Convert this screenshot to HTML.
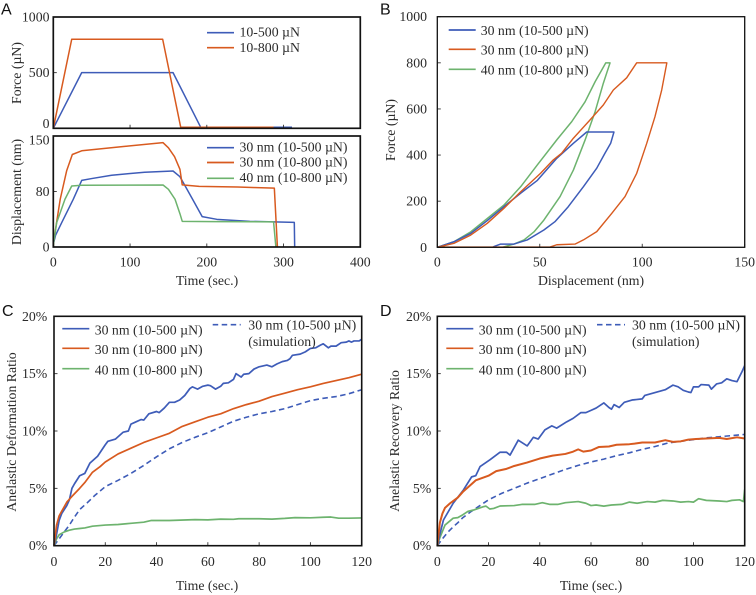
<!DOCTYPE html>
<html lang="en">
<head>
<meta charset="utf-8">
<title>Nanoindentation force, displacement and anelastic ratio charts</title>
<style>
html,body{margin:0;padding:0;background:#fff;width:756px;height:595px;overflow:hidden}
svg{display:block;font-family:"Liberation Serif",serif;fill:#2b2b2b;filter:blur(.3px)}
text{font-size:13.8px}
.letter{font-family:"Liberation Sans",sans-serif;font-size:16px;fill:#111}
.frame{fill:none;stroke:#111}
</style>
</head>
<body>
<svg id="chart" xmlns="http://www.w3.org/2000/svg" width="756" height="595" viewBox="0 0 756 595">
  <text class="letter" x="1" y="14.5">A</text>
  <text class="letter" x="380" y="14.5">B</text>
  <text class="letter" x="2" y="316">C</text>
  <text class="letter" x="380" y="316">D</text>

  <g id="p-force"></g>
  <g id="p-disp"></g>
  <g id="p-b"></g>
  <g id="p-c"></g>
  <g id="p-d"></g>

  <text x="207" y="285" text-anchor="middle">Time (sec.)</text>
  <text transform="translate(21,73) rotate(-90)" text-anchor="middle">Force (µN)</text>
  <text transform="translate(21,192) rotate(-90)" text-anchor="middle">Displacement (nm)</text>
  <text x="591" y="285" text-anchor="middle">Displacement (nm)</text>
  <text transform="translate(395,130) rotate(-90)" text-anchor="middle">Force (µN)</text>
  <text x="207" y="590" text-anchor="middle">Time (sec.)</text>
  <text transform="translate(16,432) rotate(-90)" text-anchor="middle">Anelastic Deformation Ratio</text>
  <text x="591" y="590" text-anchor="middle">Time (sec.)</text>
  <text transform="translate(399,441) rotate(-90)" text-anchor="middle">Anelastic Recovery Ratio</text>

  <g>
    <line x1="207" x2="234" y1="32.7" y2="32.7" stroke="#3E5CB8" stroke-width="1.7"/>
    <text x="239.5" y="36.5">10-500 µN</text>
    <line x1="207" x2="234" y1="47.7" y2="47.7" stroke="#D85A1F" stroke-width="1.7"/>
    <text x="239.5" y="52">10-800 µN</text>
  </g>
  <g>
    <line x1="207" x2="234" y1="147.7" y2="147.7" stroke="#3E5CB8" stroke-width="1.7"/>
    <text x="239.5" y="151.5">30 nm (10-500 µN)</text>
    <line x1="207" x2="234" y1="162.5" y2="162.5" stroke="#D85A1F" stroke-width="1.7"/>
    <text x="239.5" y="166.5">30 nm (10-800 µN)</text>
    <line x1="207" x2="234" y1="178.3" y2="178.3" stroke="#6DB36E" stroke-width="1.7"/>
    <text x="239.5" y="182">40 nm (10-800 µN)</text>
  </g>
  <g>
    <line x1="448.7" x2="475.7" y1="30" y2="30" stroke="#3E5CB8" stroke-width="1.7"/>
    <text x="480.7" y="35">30 nm (10-500 µN)</text>
    <line x1="448.7" x2="475.7" y1="49.3" y2="49.3" stroke="#D85A1F" stroke-width="1.7"/>
    <text x="480.7" y="54.5">30 nm (10-800 µN)</text>
    <line x1="448.7" x2="475.7" y1="69.3" y2="69.3" stroke="#6DB36E" stroke-width="1.7"/>
    <text x="480.7" y="74.5">40 nm (10-800 µN)</text>
  </g>
  <g>
    <line x1="62.3" x2="89.3" y1="328.7" y2="328.7" stroke="#3E5CB8" stroke-width="1.7"/>
    <text x="94.7" y="334.5">30 nm (10-500 µN)</text>
    <line x1="62.3" x2="89.3" y1="348.3" y2="348.3" stroke="#D85A1F" stroke-width="1.7"/>
    <text x="94.7" y="354">30 nm (10-800 µN)</text>
    <line x1="62.3" x2="89.3" y1="368.7" y2="368.7" stroke="#6DB36E" stroke-width="1.7"/>
    <text x="94.7" y="374.5">40 nm (10-800 µN)</text>
    <line x1="212.7" x2="240.7" y1="324.7" y2="324.7" stroke="#3E5CB8" stroke-width="1.6" stroke-dasharray="5.5 3.5"/>
    <text x="248.3" y="329.7">30 nm (10-500 µN)</text>
    <text x="248.3" y="346">(simulation)</text>
  </g>
  <g>
    <line x1="446.3" x2="473.3" y1="328.7" y2="328.7" stroke="#3E5CB8" stroke-width="1.7"/>
    <text x="478.7" y="334.5">30 nm (10-500 µN)</text>
    <line x1="446.3" x2="473.3" y1="348.3" y2="348.3" stroke="#D85A1F" stroke-width="1.7"/>
    <text x="478.7" y="354">30 nm (10-800 µN)</text>
    <line x1="446.3" x2="473.3" y1="368.7" y2="368.7" stroke="#6DB36E" stroke-width="1.7"/>
    <text x="478.7" y="374.5">40 nm (10-800 µN)</text>
    <line x1="597" x2="625" y1="324.7" y2="324.7" stroke="#3E5CB8" stroke-width="1.6" stroke-dasharray="5.5 3.5"/>
    <text x="632" y="329.7">30 nm (10-500 µN)</text>
    <text x="632" y="346">(simulation)</text>
  </g>
</svg>
<script>
// ---------- Panel A, force vs time ----------
const forceTime500 = [0, 37, 156, 192, 311];
const forceValue500 = [0, 500, 500, 10, 10];
const forceTime800 = [0, 24, 142.5, 166, 287];
const forceValue800 = [0, 800, 800, 10, 10];
const forceTicks = [0, 500, 1000];
const forceTickLabels = ['0', '500', '1000'];

// ---------- Panel A, displacement vs time ----------
const dispTime30a = [0, 0.5, 3, 11, 26, 37, 50, 76, 119, 156, 165, 171, 182, 194, 213, 256, 314, 314.5];
const dispValue30a = [0, 6, 16, 33, 64.5, 90, 92.5, 97, 101, 102.7, 95, 84, 63.5, 41, 37.4, 34.7, 33.3, 0];
const dispTime30b = [0, 0.5, 9, 17.4, 24.8, 37, 93, 143, 150, 158, 165, 168, 190, 240, 288, 292];
const dispValue30b = [0, 8, 64.5, 103, 125, 130, 136, 141, 134, 122, 105, 84, 82, 81, 79.5, 0];
const dispTime40 = [0, 0.5, 4.4, 15.2, 24, 37, 143, 150, 158.6, 165, 168, 210, 287, 290];
const dispValue40 = [0, 6, 33, 64.5, 82.4, 83.4, 83.8, 78, 64.5, 45, 34.7, 34.3, 34, 0];
const dispTicks = [0, 75, 150];
const dispTickLabels = ['0', '80', '150'];
const timeATicks = [0, 100, 200, 300, 400];
const timeATickLabels = ['0', '100', '200', '300', '400'];

// ---------- Panel B, force vs displacement ----------
const bDisp30a = [0, 8.1, 16.3, 24.4, 32.5, 40.7, 48.8, 58.3, 66.4, 72.9, 86.2, 84.6, 81.8, 77.8, 71.3, 63.9, 57.4, 52, 43.9, 37.4, 30.9, 27.6, 27];
const bForce30a = [0, 24, 60, 116, 176, 235, 290, 386, 451, 500, 500, 451, 408, 343, 263, 176, 111, 75, 32, 14, 14, 3, 0];
const bDisp30b = [0, 8.1, 16.3, 24.4, 32.5, 40.7, 50.4, 56.6, 60.7, 66.4, 74.5, 81, 85.9, 92.4, 97.3, 112, 109.5, 106.2, 102.2, 97.3, 91.6, 85.1, 77.8, 71.3, 67.2, 58.3, 55, 0];
const bForce30b = [0, 17, 53, 104, 169, 241, 321, 379, 408, 473, 552, 617, 682, 735, 800, 800, 682, 566, 451, 321, 220, 147, 68, 32, 14, 11, 1, 1];
const bDisp40 = [0, 8.1, 16.3, 24.4, 32.5, 40.7, 48.8, 58.5, 65.6, 72.1, 77, 82.2, 84.3, 81, 77, 72.1, 66.4, 59.9, 52, 47.2, 42.3, 37.4, 31.7];
const bForce40 = [0, 24, 67, 125, 183, 263, 357, 468, 545, 631, 718, 800, 800, 711, 588, 465, 335, 220, 118, 67, 32, 14, 0];
const bXTicks = [0, 50, 100, 150];
const bXTickLabels = ['0', '50', '100', '150'];
const bYTicks = [0, 200, 400, 600, 800, 1000];
const bYTickLabels = ['0', '200', '400', '600', '800', '1000'];

// ---------- Panel C, anelastic deformation ratio ----------
const cTime30a = [0,1,2,3,5,6,7,8,10,12,14,17,20,21,24,27,29,30,32,34,35,37,40,41,43,45,47,49,51,53,54,56,58,60,61,63,65,66,68,70,71,73,74,76,78,80,83,85,87,89,91,92,93,96,98,100,102,104,105,107,108,110,112,114,115,116,117,119,120];
const cRatio30a = [0,1,2.2,2.8,3.5,4,5,5.4,6.1,6.3,7.2,7.8,8.8,9.1,9.3,9.9,10,10.6,10.8,11,10.95,11.5,11.7,11.6,12,12.5,12.5,12.7,13.1,13.7,13.85,13.65,13.9,14,13.95,13.65,13.9,14.15,14.2,14.5,15,14.7,14.95,15,15.4,15.6,15.75,15.6,15.85,16.05,16.15,16.3,16.6,16.7,16.9,17.2,17.25,17.5,17.6,17.25,17.4,17.4,17.7,17.75,17.85,17.75,17.85,17.85,18];
const cTime30b = [0,1,2,3,5,7,10,12,15,18,20,25,30,35,40,45,50,55,60,65,70,75,80,85,90,95,100,105,110,115,120];
const cRatio30b = [0,1.8,2.6,3,3.8,4.3,5,5.5,6.4,6.9,7.3,8,8.5,9,9.4,9.8,10.4,10.8,11.2,11.5,11.95,12.3,12.6,13,13.3,13.6,13.85,14.15,14.4,14.65,14.95];
const cTime40 = [0,1,2,4,6,8,10,12,15,20,25,30,35,38,45,55,60,65,70,72,80,85,90,94,100,105,108,111,115,120];
const cRatio40 = [0,0.6,0.95,1.2,1.35,1.45,1.5,1.55,1.7,1.8,1.85,1.95,2.05,2.2,2.2,2.27,2.25,2.32,2.3,2.35,2.35,2.32,2.38,2.45,2.43,2.48,2.5,2.4,2.4,2.42];
const cTimeSim = [0,1,2,4,6,8,10,13,16,20,25,30,35,40,45,50,55,60,65,70,75,80,85,90,95,100,105,110,115,120];
const cRatioSim = [0,0.3,0.6,1.2,1.8,2.5,3.15,3.75,4.4,5.15,5.7,6.3,7,7.75,8.45,9,9.45,9.85,10.35,10.85,11.2,11.5,11.7,11.95,12.3,12.65,12.85,13,13.25,13.6];

// ---------- Panel D, anelastic recovery ratio ----------
const dTime30a = [0,1,2.4,6.2,10.2,13.4,15,16.7,20.6,24.5,27,28.4,31.6,35.1,37.5,39.4,42,44.7,46.6,50.5,53,56,58,60,62,65,67,68,69,71,73,76,80,81,85,89,92,94,96,98,99,100,102,103,106,107,109,111,113,115,117,119,120];
const dRatio30a = [0,1,2.24,3.7,4.86,6,6.1,6.9,7.5,8.15,8.15,7.9,9.2,8.7,9.45,9.3,10.1,10.45,10.25,10.8,11.1,11.6,11.6,11.8,12,12.45,12.05,11.9,12.3,12.05,12.5,12.7,12.8,13.1,13.35,13.6,14,13.85,13.55,13.4,13.35,13.85,13.85,14.05,14,13.65,14.1,14.2,14.55,14.4,14.3,15.2,15.7];
const dTime30b = [0,1,2,3,5,8,10,12,15,20,23,27,30,35,40,45,50,53,55,57,60,63,67,70,75,77,80,85,89,92,95,98,101,105,110,113,117,120];
const dRatio30b = [0,2,2.8,3.3,3.7,4.2,4.7,5.1,5.7,6.1,6.5,6.7,6.95,7.25,7.6,7.85,8,8.2,8.4,8.2,8.3,8.6,8.65,8.8,8.85,8.9,9,9,9.2,9.05,9.1,9.25,9.3,9.35,9.4,9.3,9.45,9.35];
const dTime40 = [0,1,3,6.2,8,10,12,14,18,19,20.5,22,24.5,30,33,38,41,44,47,50,55,58,60,62,65,68,72,75,78,82,85,88,92,95,98,100,102,105,110,113,115,118,119.5,120];
const dRatio40 = [0,0.7,1.8,2.4,2.45,2.7,3,3.1,3.4,3.45,3.2,3.25,3.46,3.5,3.6,3.6,3.75,3.6,3.6,3.75,3.85,3.7,3.5,3.55,3.45,3.55,3.6,3.8,3.7,3.85,3.8,3.95,3.9,3.8,3.85,3.8,4.1,3.95,3.9,3.85,3.95,4,3.85,4.9];
const dTimeSim = [0,2,4,6,8,10,13,16,20,25,30,35,40,45,50,55,60,65,70,75,80,85,90,95,100,105,110,115,120];
const dRatioSim = [0,0.6,1.15,1.6,2,2.45,2.95,3.4,4,4.55,5,5.45,5.85,6.25,6.65,7,7.3,7.55,7.85,8.1,8.4,8.65,8.95,9.1,9.25,9.4,9.5,9.6,9.7];

const timeCTicks = [0, 20, 40, 60, 80, 100, 120];
const timeCTickLabels = ['0', '20', '40', '60', '80', '100', '120'];
const ratioTicks = [0, 5, 10, 15, 20];
const ratioTickLabels = ['0%', '5%', '10%', '15%', '20%'];

const NS = 'http://www.w3.org/2000/svg';
const BLUE = '#3E5CB8', ORANGE = '#D85A1F', GREEN = '#6DB36E';

function scale(d0, d1, r0, r1) {
  return function (v) { return r0 + (v - d0) / (d1 - d0) * (r1 - r0); };
}

function drawFrame(g, left, top, right, bottom, width) {
  const r = document.createElementNS(NS, 'rect');
  r.setAttribute('class', 'frame');
  r.setAttribute('x', left);
  r.setAttribute('y', top);
  r.setAttribute('width', right - left);
  r.setAttribute('height', bottom - top);
  r.setAttribute('stroke-width', width);
  
  
  g.appendChild(r);
}

function drawTick(g, x1, y1, x2, y2) {
  const t = document.createElementNS(NS, 'line');
  t.setAttribute('x1', x1);
  t.setAttribute('y1', y1);
  t.setAttribute('x2', x2);
  t.setAttribute('y2', y2);
  t.setAttribute('stroke', '#333');
  t.setAttribute('stroke-width', '0.9');
  
  
  g.appendChild(t);
}

function drawLabel(g, x, y, str, anchor) {
  const t = document.createElementNS(NS, 'text');
  t.setAttribute('x', x);
  t.setAttribute('y', y);
  t.setAttribute('text-anchor', anchor);
  
  
  t.textContent = str;
  g.appendChild(t);
}

function drawXAxis(g, sx, bottom, ticks, labels, labelY) {
  ticks.forEach(function (v, i) {
    drawTick(g, sx(v), bottom, sx(v), bottom - 3.5);
    if (labels) drawLabel(g, sx(v), labelY, labels[i], 'middle');
  });
}

function drawYAxis(g, sy, left, ticks, labels, labelX, offsets) {
  ticks.forEach(function (v, i) {
    drawTick(g, left, sy(v), left + 3.5, sy(v));
    drawLabel(g, labelX, sy(v) + 4.5 + (offsets ? offsets[i] : 0), labels[i], 'end');
  });
}

function drawSeries(g, sx, sy, xs, ys, color, name, width, dash) {
  const p = document.createElementNS(NS, 'path');
  let d = '';
  xs.forEach(function (x, i) {
    d += (i ? 'L' : 'M') + sx(x).toFixed(2) + ' ' + sy(ys[i]).toFixed(2);
  });
  p.setAttribute('d', d);
  p.setAttribute('fill', 'none');
  p.setAttribute('stroke', color);
  p.setAttribute('stroke-width', width);
  p.setAttribute('stroke-linejoin', 'round');
  if (dash) p.setAttribute('stroke-dasharray', '5.5 3.5');
  
  
  g.appendChild(p);
}

// Panel A top
(function () {
  const g = document.getElementById('p-force');
  const sx = scale(0, 400, 53.3, 360.3), sy = scale(0, 1000, 128.3, 17);
  drawSeries(g, sx, sy, forceTime500, forceValue500, BLUE, 'force-10-500-line', 1.5);
  drawSeries(g, sx, sy, forceTime800, forceValue800, ORANGE, 'force-10-800-line', 1.5);
  drawXAxis(g, sx, 128.3, timeATicks, null, 0);
  drawYAxis(g, sy, 53.3, forceTicks, forceTickLabels, 49.5, [-5, 0, 0]);
  drawFrame(g, 53.3, 17, 360.3, 128.3, 1.7);
})();

// Panel A bottom
(function () {
  const g = document.getElementById('p-disp');
  const sx = scale(0, 400, 53.3, 360.3), sy = scale(0, 150, 247, 136);
  drawSeries(g, sx, sy, dispTime30a, dispValue30a, BLUE, 'displacement-30nm-500-line', 1.5);
  drawSeries(g, sx, sy, dispTime30b, dispValue30b, ORANGE, 'displacement-30nm-800-line', 1.5);
  drawSeries(g, sx, sy, dispTime40, dispValue40, GREEN, 'displacement-40nm-800-line', 1.5);
  drawXAxis(g, sx, 247, timeATicks, timeATickLabels, 266.5);
  drawYAxis(g, sy, 53.3, dispTicks, dispTickLabels, 49.5, [0, 0, 4]);
  drawFrame(g, 53.3, 136, 360.3, 247, 1.7);
})();

// Panel B
(function () {
  const g = document.getElementById('p-b');
  const sx = scale(0, 150, 437.3, 744.7), sy = scale(0, 1000, 247.3, 16.7);
  drawSeries(g, sx, sy, bDisp40, bForce40, GREEN, 'loop-40nm-800-line', 1.5);
  drawSeries(g, sx, sy, bDisp30a, bForce30a, BLUE, 'loop-30nm-500-line', 1.5);
  drawSeries(g, sx, sy, bDisp30b, bForce30b, ORANGE, 'loop-30nm-800-line', 1.4);
  drawXAxis(g, sx, 247.3, bXTicks, bXTickLabels, 266.5);
  drawYAxis(g, sy, 437.3, bYTicks, bYTickLabels, 427);
  drawFrame(g, 437.3, 16.7, 744.7, 247.3, 1.3);
})();

// Panel C
(function () {
  const g = document.getElementById('p-c');
  const sx = scale(0, 120, 54, 361.7), sy = scale(0, 20, 545.7, 316.3);
  drawSeries(g, sx, sy, cTimeSim, cRatioSim, BLUE, 'deformation-simulation-line', 1.6, true);
  drawSeries(g, sx, sy, cTime40, cRatio40, GREEN, 'deformation-40nm-800-line', 1.7);
  drawSeries(g, sx, sy, cTime30a, cRatio30a, BLUE, 'deformation-30nm-500-line', 1.7);
  drawSeries(g, sx, sy, cTime30b, cRatio30b, ORANGE, 'deformation-30nm-800-line', 1.7);
  drawXAxis(g, sx, 545.7, timeCTicks, timeCTickLabels, 566);
  drawYAxis(g, sy, 54, ratioTicks, ratioTickLabels, 47.3);
  drawFrame(g, 54, 316.3, 361.7, 545.7, 1.6);
})();

// Panel D
(function () {
  const g = document.getElementById('p-d');
  const sx = scale(0, 120, 437.3, 744.7), sy = scale(0, 20, 545.7, 316.3);
  drawSeries(g, sx, sy, dTimeSim, dRatioSim, BLUE, 'recovery-simulation-line', 1.6, true);
  drawSeries(g, sx, sy, dTime40, dRatio40, GREEN, 'recovery-40nm-800-line', 1.7);
  drawSeries(g, sx, sy, dTime30a, dRatio30a, BLUE, 'recovery-30nm-500-line', 1.7);
  drawSeries(g, sx, sy, dTime30b, dRatio30b, ORANGE, 'recovery-30nm-800-line', 2);
  drawXAxis(g, sx, 545.7, timeCTicks, timeCTickLabels, 566);
  drawYAxis(g, sy, 437.3, ratioTicks, ratioTickLabels, 431.3);
  drawFrame(g, 437.3, 316.3, 744.7, 545.7, 1.6);
})();
</script>
</body>
</html>
